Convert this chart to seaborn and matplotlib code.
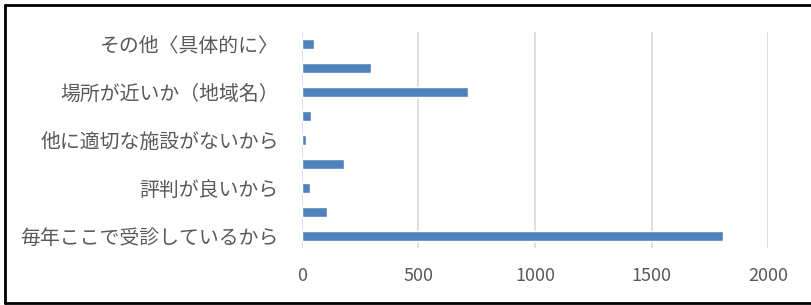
import matplotlib
matplotlib.use("Agg")
import matplotlib.pyplot as plt
from matplotlib.lines import Line2D
import seaborn as sns
import pandas as pd

# データ（上から順）
labels = ["その他〈具体的に〉", "", "場所が近いか（地域名）", "", "他に適切な施設がないから",
          "", "評判が良いから", "", "毎年ここで受診しているから"]
values = [52, 296, 712, 39, 17, 183, 36, 107, 1807]
xticks = [0, 500, 1000, 1500, 2000]

keys = [f"c{i}" for i in range(len(labels))]
df = pd.DataFrame({"key": keys, "value": values})

sns.set_style("white")
plt.rcParams["font.family"] = ["Noto Sans CJK JP", "DejaVu Sans"]

fig = plt.figure(figsize=(8.11, 3.05), dpi=100)
ax = fig.add_axes([0.372, 0.187, 0.5755, 0.708])

sns.barplot(data=df, x="value", y="key", order=keys, color="#4F81BD",
            width=0.38, saturation=1, ax=ax)

ax.set_xlim(0, 2000)
ax.set_xticks(xticks)
ax.set_xticklabels([str(t) for t in xticks])
ax.set_yticks(range(len(labels)))
ax.set_yticklabels(labels)
ax.set_xlabel("")
ax.set_ylabel("")
ax.tick_params(axis="both", length=0, colors="#595959")
ax.tick_params(axis="y", pad=16.5, labelsize=14.3)
ax.tick_params(axis="x", pad=14, labelsize=13)
ax.grid(axis="x", color="#D9D9D9", linewidth=1.2)
ax.set_axisbelow(True)
for s in ax.spines.values():
    s.set_visible(False)

# 外枠（左・上・下）
x0, y0, y1 = 4.5 / 811, 2 / 305, 300.5 / 305
for xs, ys in [([x0, x0], [y0, y1]), ([x0, 1.0], [y1, y1]), ([x0, 1.0], [y0, y0])]:
    fig.add_artist(Line2D(xs, ys, transform=fig.transFigure,
                          color="black", linewidth=2))

fig.savefig("out.png", dpi=100)
